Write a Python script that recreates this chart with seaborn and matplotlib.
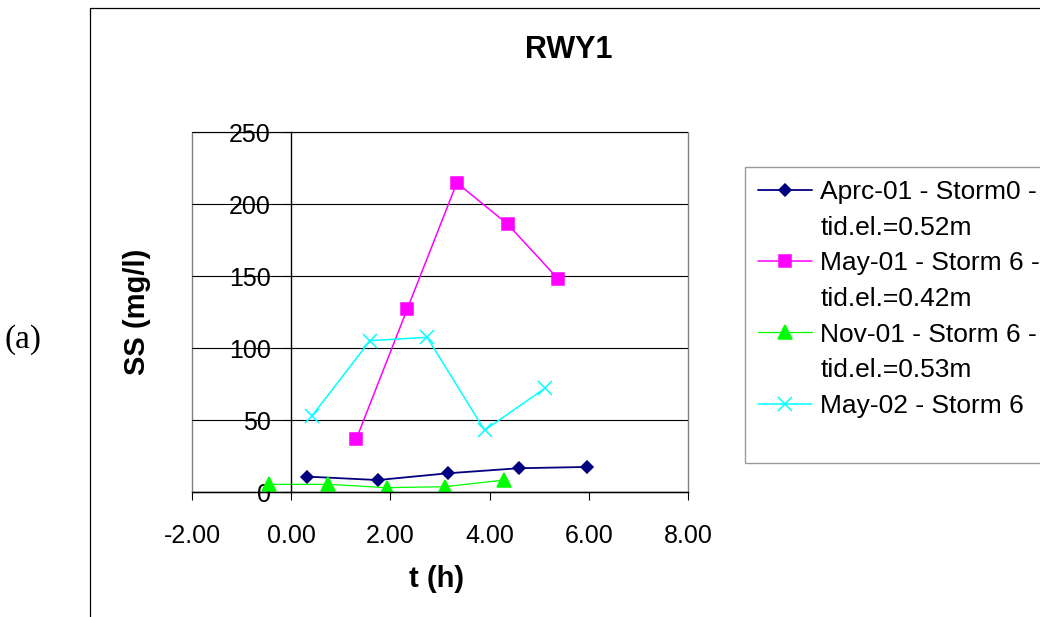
import matplotlib
matplotlib.use("Agg")
import matplotlib.pyplot as plt
from matplotlib.lines import Line2D
from matplotlib.patches import Rectangle
import seaborn as sns

# data (t in hours, SS in mg/l)
apr01_t = [0.32, 1.74, 3.16, 4.59, 5.97]
apr01_ss = [10.7, 8.3, 13.0, 16.5, 17.4]

may01_t = [1.31, 2.34, 3.34, 4.37, 5.38]
may01_ss = [36.6, 127.1, 214.7, 185.8, 148.0]

nov01_t = [-0.45, 0.75, 1.93, 3.10, 4.29]
nov01_ss = [5.3, 5.3, 3.0, 3.7, 8.3]

may02_t = [0.42, 1.59, 2.74, 3.90, 5.11]
may02_ss = [52.9, 105.1, 107.4, 42.9, 71.9]

series_labels = [
    "Aprc-01 - Storm0 -\ntid.el.=0.52m",
    "May-01 - Storm 6 -\ntid.el.=0.42m",
    "Nov-01 - Storm 6 -\ntid.el.=0.53m",
    "May-02 - Storm 6",
]
x_ticks = [-2, 0, 2, 4, 6, 8]
y_ticks = [0, 50, 100, 150, 200, 250]

sns.set_theme(style="white")
plt.rcParams["font.family"] = ["Liberation Sans", "DejaVu Sans"]
plt.rcParams.update({"text.color": "black", "axes.labelcolor": "black",
                     "xtick.color": "black", "ytick.color": "black"})

W, H = 1040, 617
fig = plt.figure(figsize=(W / 100, H / 100), dpi=100)
fig.patch.set_facecolor("white")

# outer chart border (only left / top visible in the original)
fig.add_artist(Rectangle((90 / W, -0.5), 2, 0.5 + 1 - 8 / H, transform=fig.transFigure,
                         fill=False, edgecolor="black", linewidth=0.9))

ax = fig.add_axes([192 / W, 1 - 492 / H, 496 / W, 360 / H])

styles = [
    dict(color="#000080", marker="D", ms=6.3, lw=1.3),
    dict(color="#FF00FF", marker="s", ms=9, lw=1.1),
    dict(color="#00FF00", marker="^", ms=9.4, lw=0.9),
    dict(color="#00FFFF", marker="x", ms=9.5, lw=1.1),
]
data = [(apr01_t, apr01_ss), (may01_t, may01_ss), (nov01_t, nov01_ss), (may02_t, may02_ss)]

for (t, ss), st in zip(data, styles):
    sns.lineplot(x=t, y=ss, ax=ax, color=st["color"], marker=st["marker"], markersize=st["ms"],
                 linewidth=st["lw"], markeredgecolor=st["color"], markeredgewidth=1.1,
                 sort=False, estimator=None, legend=False)

ax.set_xlim(-2, 8)
ax.set_ylim(0, 250)
ax.set_xticks(x_ticks)
ax.set_xticklabels([f"{v:.2f}" for v in x_ticks])
ax.set_yticks(y_ticks)
ax.set_yticklabels([str(v) for v in y_ticks])
ax.grid(axis="y", color="black", linewidth=0.8)
ax.grid(axis="x", visible=False)
for tk in ax.yaxis.get_major_ticks():
    if tk.get_loc() == y_ticks[-1]:
        tk.gridline.set_visible(False)

ax.patch.set_edgecolor("#808080")
ax.patch.set_linewidth(1.0)
for side in ["top", "right"]:
    ax.spines[side].set_visible(False)
ax.spines["left"].set_position(("data", 0))
for side in ["left", "bottom"]:
    ax.spines[side].set_color("black")
    ax.spines[side].set_linewidth(1.0)

ax.tick_params(axis="y", direction="out", length=5.8, width=0.8, color="black",
               labelsize=18, pad=9, left=True, labelcolor="black")
ax.tick_params(axis="x", direction="out", length=5.8, width=0.8, color="black",
               labelsize=18, pad=17, bottom=True, labelcolor="black")
ax.set_xlabel("")
ax.set_ylabel("SS (mg/l)", fontsize=21, fontweight="bold", color="black")
ax.yaxis.set_label_coords(-0.082, 0.5)

fig.text(437 / W, 1 - 579 / H, "t (h)", ha="center", va="center", fontsize=21,
         fontweight="bold", color="black")
fig.text(569 / W, 1 - 50 / H, "RWY1", ha="center", va="center", fontsize=22,
         fontweight="bold", color="black")
fig.text(23 / W, 1 - 340 / H, "(a)", ha="center", va="center", fontsize=24, color="black",
         family=["Liberation Serif", "DejaVu Serif"])

# legend: first line of each label carries the marker
handles, labels = [], []
for lab, st in zip(series_labels, styles):
    parts = lab.split("\n")
    handles.append(Line2D([], [], color=st["color"], marker=st["marker"], markersize=st["ms"],
                          linewidth=st["lw"], markeredgewidth=1.1))
    labels.append(parts[0])
    for extra in parts[1:]:
        handles.append(Line2D([], [], linestyle="none"))
        labels.append(extra)
handles.append(Line2D([], [], linestyle="none"))
labels.append("")

leg = fig.legend(handles, labels, loc="upper left", bbox_to_anchor=(745 / W, 1 - 167 / H),
                 fontsize=19, frameon=True, fancybox=False, handlelength=2.05,
                 handletextpad=0.3, borderpad=0.5, labelspacing=0.44, borderaxespad=0)
leg.get_frame().set_edgecolor("#808080")
leg.get_frame().set_linewidth(1.0)
for txt in leg.get_texts():
    txt.set_color("black")
leg.get_texts()[-1].set_fontsize(6)

fig.savefig("out.png", dpi=100)
plt.close(fig)
